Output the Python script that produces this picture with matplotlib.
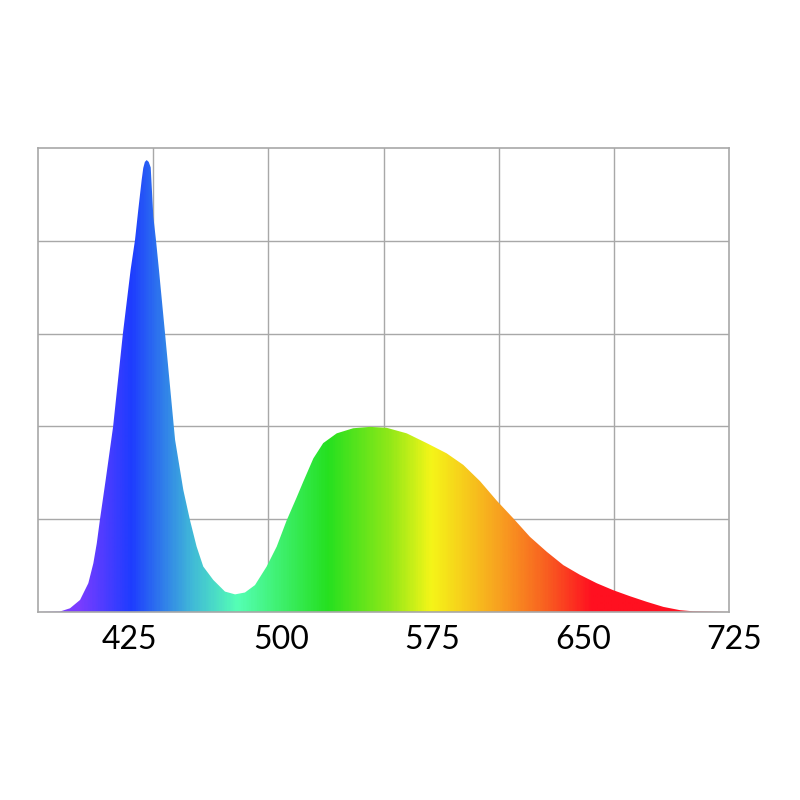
import numpy as np
import matplotlib
matplotlib.use("Agg")
import matplotlib.pyplot as plt
from matplotlib.colors import LinearSegmentedColormap
from matplotlib.patches import Polygon

# spectrum (wavelength nm, relative intensity)
wavelength = [379.3, 390.2, 395.2, 400.2, 404.3, 406.8, 408.5, 410.1, 411.7, 412.9,
              416.6, 421.5, 425.3, 427.5, 429.1, 430.8, 431.6, 432.4, 433.3, 434.3,
              435.3, 435.8, 436.6, 437.9, 439.4, 442.4, 447.4, 451.5, 454.8, 458.1,
              461.4, 466.4, 472.2, 477.2, 482.1, 487.1, 492.9, 497.9, 502.8, 507.8,
              511.1, 516.1, 521.0, 527.7, 535.9, 544.2, 552.5, 562.5, 572.4, 582.3,
              590.6, 598.9, 607.2, 615.4, 623.7, 632.0, 640.3, 648.6, 656.9, 665.1,
              673.4, 681.7, 690.0, 698.2, 704.8, 722.6]
intensity = [0.0, 0.001, 0.008, 0.026, 0.062, 0.105, 0.148, 0.200, 0.248, 0.284,
             0.399, 0.601, 0.737, 0.802, 0.866, 0.931, 0.957, 0.970, 0.974, 0.970,
             0.958, 0.917, 0.852, 0.802, 0.737, 0.601, 0.371, 0.263, 0.198, 0.141,
             0.098, 0.069, 0.044, 0.038, 0.042, 0.058, 0.098, 0.141, 0.197, 0.247,
             0.281, 0.331, 0.364, 0.385, 0.396, 0.399, 0.397, 0.385, 0.364, 0.342,
             0.317, 0.282, 0.240, 0.202, 0.162, 0.130, 0.101, 0.080, 0.062, 0.047,
             0.034, 0.022, 0.011, 0.004, 0.0015, 0.0]

tick_labels = [425, 500, 575, 650, 725]

# colour stops along wavelength
stop_nm = [379.3, 399, 425, 455, 478, 523, 554, 575, 609, 632, 655, 722.6]
stop_col = ["#8040FF", "#7A3CFF", "#1E3CFF", "#40B8D8", "#55FFB5", "#25E020",
            "#90E818", "#F5F518", "#F8A020", "#F86020", "#FF1020", "#FF1020"]

xmin, xmax = 379.3, 722.6
pos = [(v - xmin) / (xmax - xmin) for v in stop_nm]
cmap = LinearSegmentedColormap.from_list("spec", list(zip(pos, stop_col)))

fig = plt.figure(figsize=(8, 8), dpi=100)
ax = fig.add_axes([38 / 800, 1 - 612 / 800, 691 / 800, 464 / 800])
ax.set_xlim(xmin, xmax)
ax.set_ylim(0, 1)

# grid: 6 columns, 5 rows
ax.set_xticks(np.linspace(xmin, xmax, 7)[1:-1])
ax.set_yticks(np.linspace(0, 1, 6)[1:-1])
ax.tick_params(length=0, labelbottom=False, labelleft=False)
ax.grid(True, color="#A8A8A8", lw=1)
ax.set_axisbelow(True)
for s in ax.spines.values():
    s.set_color("#A8A8A8")
    s.set_linewidth(1.2)

grad = np.linspace(0, 1, 600).reshape(1, -1)
im = ax.imshow(grad, extent=[xmin, xmax, 0, 1], aspect="auto", cmap=cmap,
               origin="lower", zorder=2, interpolation="bilinear")
verts = np.column_stack([wavelength, intensity])
verts = np.vstack([verts, [[xmax, 0], [xmin, 0]]])
poly = Polygon(verts, closed=True, fc="none", ec="none", transform=ax.transData)
ax.add_patch(poly)
im.set_clip_path(poly)

for t in tick_labels:
    ax.text(t, -0.06, str(t), ha="center", va="center", fontsize=23,
            family="Lato", transform=ax.get_xaxis_transform())

fig.savefig("out.png", dpi=100)
